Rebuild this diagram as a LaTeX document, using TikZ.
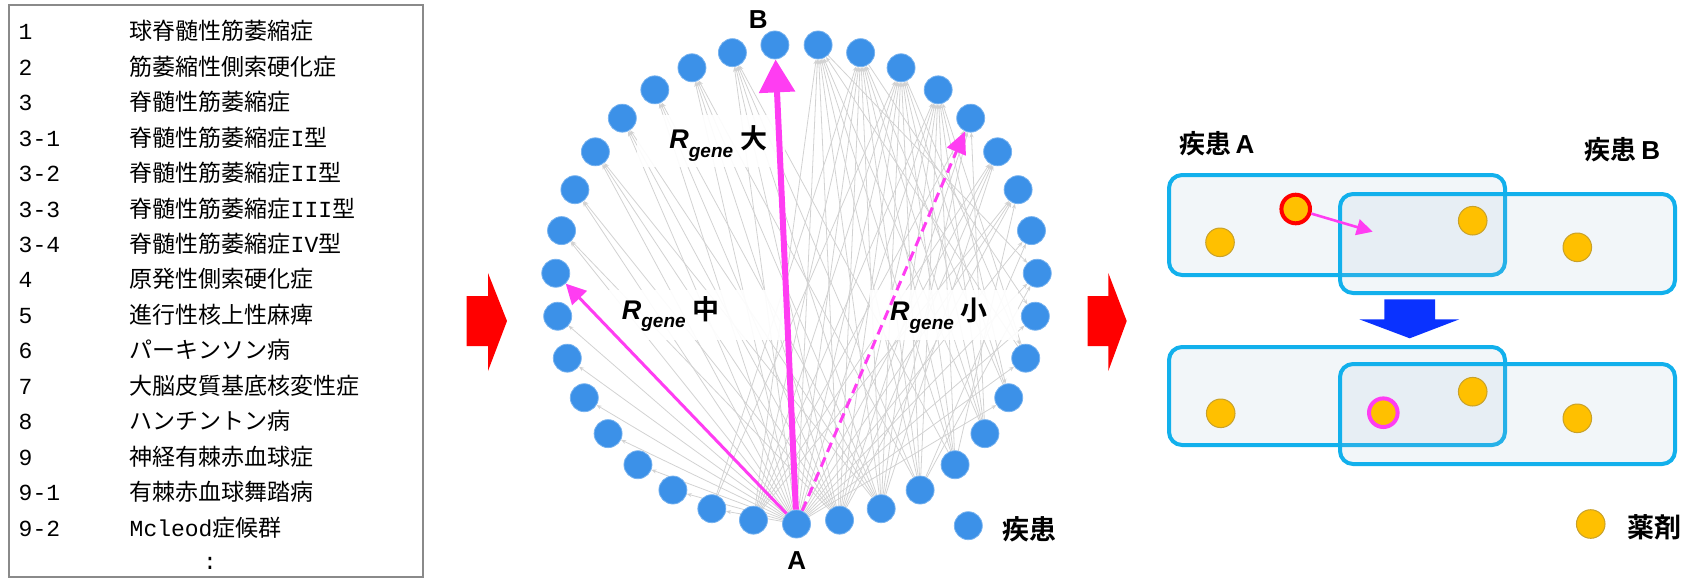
\documentclass[tikz,border=0pt]{standalone}
\usepackage{fontspec}
\usepackage{xcolor}
\usepackage{tikz}
\usetikzlibrary{arrows.meta,backgrounds}
\setmainfont{Noto Sans CJK JP}[BoldFont={Noto Sans CJK JP Bold}]
\newfontfamily\latinsans{Liberation Sans}
\newfontfamily\latinmono{Liberation Mono}
\definecolor{DRBlue}{HTML}{3C91E8}
\definecolor{DREdge}{HTML}{D2D2D2}
\definecolor{DRPink}{HTML}{FF3DF2}
\definecolor{DRCyan}{HTML}{12B0EC}
\definecolor{DRBoxFill}{HTML}{A4BDD4}
\definecolor{DROrange}{HTML}{FFC000}
\definecolor{DROrangeLine}{HTML}{C8A12A}
\definecolor{DRRed}{HTML}{FF0000}
\definecolor{DRArrowBlue}{HTML}{0A32FF}
\definecolor{DRFrame}{HTML}{8A8A8A}
\newcommand{\Rgene}[1]{{\latinsans\bfseries\itshape R\raisebox{-0.32em}{\fontsize{9.5}{10}\selectfont gene}}\hspace{3.5pt}{\bfseries #1}}

\begin{document}
\begin{tikzpicture}[x=0.5pt,y=-0.5pt,
  disease/.style={circle,fill=DRBlue,draw=DRBlue!70!white,line width=0.4pt,minimum size=14pt,inner sep=0pt},
  drug/.style={circle,fill=DROrange,draw=DROrangeLine,line width=0.5pt,minimum size=14.3pt,inner sep=0pt},
  link/.style={DREdge,line width=0.4pt,-{Stealth[length=2.5pt,width=2pt]}},
  labbg/.style={fill=white,fill opacity=0.92},
  setbox/.style={draw=DRCyan,line width=2pt,rounded corners=6.5pt,fill=DRBoxFill,fill opacity=0.14},
  bigfont/.style={font=\fontsize{13.5}{16}\selectfont\bfseries}]
\path[use as bounding box] (0,0) rectangle (1689,579);

% disease list
\draw[DRFrame,line width=1pt] (9.3,5) rectangle (422.7,576.7);
\foreach \num/\name [count=\i from 0] in {1/球脊髄性筋萎縮症, 2/筋萎縮性側索硬化症, 3/脊髄性筋萎縮症,
    3-1/脊髄性筋萎縮症{\latinmono I}型, 3-2/脊髄性筋萎縮症{\latinmono II}型, 3-3/脊髄性筋萎縮症{\latinmono III}型,
    3-4/脊髄性筋萎縮症{\latinmono IV}型, 4/原発性側索硬化症, 5/進行性核上性麻痺, 6/パーキンソン病,
    7/大脳皮質基底核変性症, 8/ハンチントン病, 9/神経有棘赤血球症, 9-1/有棘赤血球舞踏病, 9-2/{\latinmono Mcleod}症候群}
{
  \node[anchor=base west,inner sep=0pt,font=\fontsize{11.5}{14}\selectfont] (num\i) at (18.3,{39.7+35.47*\i}) {\latinmono\num};
  \node[anchor=base west,inner sep=0pt,font=\fontsize{11.5}{14}\selectfont] (name\i) at (129.3,{39.7+35.47*\i}) {\name};
}
\node[font=\fontsize{11.5}{14}\selectfont] (more) at (210,563.3) {\latinmono :};

% block arrows
\fill[DRRed] (466.7,296) -- (488,296) -- (488,273) -- (507,321) -- (488,371) -- (488,346) -- (466.7,346) -- cycle;
\fill[DRRed] (1087.7,296) -- (1108.3,296) -- (1108.3,273) -- (1126.7,321) -- (1108.3,371) -- (1108.3,346) -- (1087.7,346) -- cycle;

% disease network
\foreach \i in {0,...,34}
  \node[disease] (d\i) at ({796.5+241*cos(270-\i*360/35)},{284-240*sin(270-\i*360/35)}) {};
\begin{pgfonlayer}{background}
\foreach \s/\t in {0/2,0/3,0/4,0/5,0/6,0/7,0/8,0/10,0/11,0/12,0/13,0/14,0/15,0/16,0/18,0/19,0/20,0/21,0/23,0/24,0/25,0/26,0/27,0/28,0/29,
    34/10,34/11,34/12,34/13,34/14,34/15,34/16,34/18,34/19,34/20,34/21,34/22,34/23,34/24,
    33/12,33/13,33/14,33/15,33/16,33/18,33/19,33/20,33/21,33/22,33/23,
    32/15,32/16,32/18,32/19,32/20,32/21,32/25,32/26,
    31/16,31/18,31/19,31/20,31/21,31/24,
    30/18,30/19,30/20,30/21,30/22,
    1/18,1/19,1/20,1/21,1/22,1/23,1/24,
    29/19,29/20,28/18,28/21,2/19,2/20,18/26,19/27,20/28,21/29}
  \draw[link] (d\s) -- (d\t);
\fill[labbg] (637,115) rectangle (785,167);
\fill[labbg] (590,290) rectangle (785,340);
\fill[labbg] (870,290) rectangle (1018,340);
\end{pgfonlayer}
\draw[DRPink,line width=3pt,-{Triangle[length=16.5pt,width=17.5pt]}] (d0) -- (d17);
\draw[DRPink,line width=1.5pt,-{Triangle[length=10pt,width=10pt]}] (d0) -- (d9);
\draw[DRPink,line width=1.5pt,dash pattern=on 5pt off 3pt,-{Triangle[length=11pt,width=10pt]}] (d0) -- (d22);
\node[bigfont] (rbig) at (718.3,143.3) {\Rgene{大}};
\node[bigfont] (rmid) at (670.8,314) {\Rgene{中}};
\node[bigfont] (rsmall) at (939,315.7) {\Rgene{小}};
\node[font=\fontsize{13}{15}\selectfont\latinsans\bfseries] (labB) at (758.3,20) {B};
\node[font=\fontsize{13}{15}\selectfont\latinsans\bfseries] (labA) at (796.7,560.7) {A};
\node[disease] (legdis) at (968.3,525.7) {};
\node[bigfont,anchor=west,inner sep=0pt] (legdistext) at (1001.7,529) {疾患};

% drug sets
\node[font=\fontsize{13}{15}\selectfont\bfseries] (setA) at (1216.7,143.3) {疾患\,{\latinsans A}};
\node[font=\fontsize{13}{15}\selectfont\bfseries] (setB) at (1622.5,150) {疾患\,{\latinsans B}};
\draw[setbox] (1169,175) rectangle (1505,275);
\draw[setbox] (1340,194) rectangle (1675,293);
\node[drug] (ua1) at (1220,242.3) {};
\node[drug,draw=DRRed,line width=2pt] (ua2) at (1295.7,209) {};
\node[drug] (uab) at (1472.7,220.7) {};
\node[drug] (ub1) at (1577.3,247.3) {};
\coordinate (movetip) at (1372.7,231.7);
\draw[DRPink,line width=1.3pt,-{Triangle[length=8pt,width=8pt]}] (ua2) -- (movetip);
\fill[DRArrowBlue] (1384.3,299.3) -- (1435,299.3) -- (1435,319.3) -- (1459.3,319.3) -- (1409.7,338.3) -- (1359.3,319.3) -- (1384.3,319.3) -- cycle;
\draw[setbox] (1169,347) rectangle (1505,445);
\draw[setbox] (1340,364) rectangle (1675,464);
\node[drug] (la1) at (1220.7,413.3) {};
\node[drug,draw=DRPink,line width=2pt] (lmoved) at (1383.3,412.7) {};
\node[drug] (lab) at (1472.7,391.7) {};
\node[drug] (lb1) at (1577.3,418.3) {};
\node[drug] (legdrug) at (1590.7,524) {};
\node[bigfont,anchor=west,inner sep=0pt] (legdrugtext) at (1626.7,527) {薬剤};
\end{tikzpicture}
\end{document}
